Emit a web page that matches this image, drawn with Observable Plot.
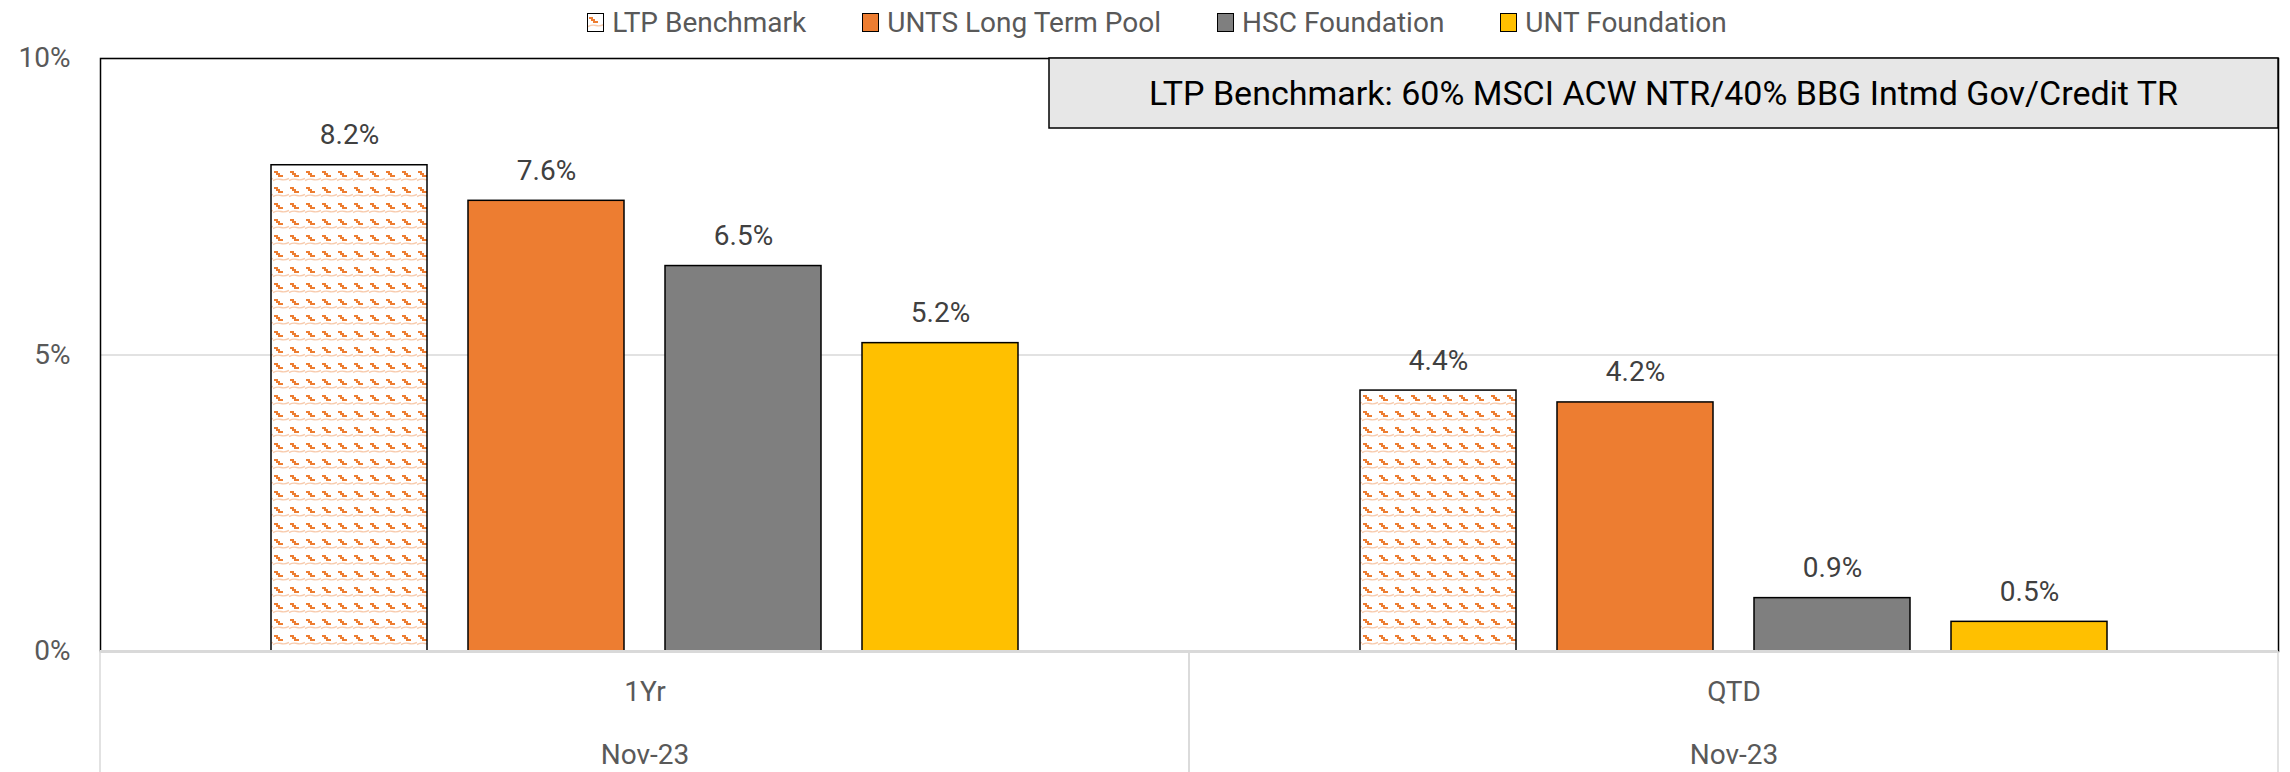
<!DOCTYPE html>
<html>
<head>
<meta charset="utf-8">
<script src="https://cdn.jsdelivr.net/npm/d3@7"></script>
<script src="https://cdn.jsdelivr.net/npm/@observablehq/plot@0.6"></script>
<style>
  html, body { margin: 0; padding: 0; background: #fff; }
  #legend { height: 40px; padding-top: 5px; padding-left: 24px; box-sizing: border-box; display: flex; justify-content: center; align-items: center; gap: 56px;
            font-family: Roboto, sans-serif; font-size: 28px; color: #595959; }
  .item { display: flex; align-items: center; }
  .sw { width: 15px; height: 17px; border: 1.5px solid #000; margin-right: 8px; box-sizing: content-box; display: inline-block; }
  .sw svg { display: block; }
</style>
</head>
<body>
<div id="legend"></div>
<div id="chart"></div>
<script>
// ---- data ----
const periods = ["1Yr", "QTD"];
const periodDates = ["Nov-23", "Nov-23"];
const series = ["LTP Benchmark", "UNTS Long Term Pool", "HSC Foundation", "UNT Foundation"];
const values1Yr = [8.2, 7.6, 6.5, 5.2];
const valuesQTD = [4.4, 4.2, 0.9, 0.5];
const yTicks = [0, 5, 10];
const seriesColors = ["url(#ltpPattern)", "#ED7D31", "#7F7F7F", "#FFC000"];
const annotationText = "LTP Benchmark: 60% MSCI ACW NTR/40% BBG Intmd Gov/Credit TR";

const valuesByPeriod = {"1Yr": values1Yr, "QTD": valuesQTD};
const table = periods.flatMap(p => series.map((s, i) => ({period: p, series: s, value: valuesByPeriod[p][i]})));

const W = 2290, H = 732;
const mLeft = 99, mRight = 12, mTop = 18, mBottom = 121;

const patternDef = (id) => `
  <pattern id="${id}" patternUnits="userSpaceOnUse" width="16" height="16">
    <rect width="16" height="16" fill="#fff"/>
    <path d="M1,3 h4 v2 h2 v2 h3 v2 h-5 v-2 h-2 v-2 h-2 z" fill="#ED7D31"/>
    <path d="M0,12.5 q4,-2 8,-1 t8,-1" fill="none" stroke="#F8CBAD" stroke-width="1.4"/>
  </pattern>`;

// ---- legend ----
const legend = d3.select("#legend");
series.forEach((s, i) => {
  const it = legend.append("div").attr("class", "item");
  const sw = it.append("span").attr("class", "sw");
  if (i === 0) {
    sw.html(`<svg width="15" height="17"><defs>${patternDef("ltpPatternLegend")}</defs><rect width="15" height="17" fill="url(#ltpPatternLegend)"/></svg>`);
  } else {
    sw.style("background", seriesColors[i]);
  }
  it.append("span").text(s);
});

const fmtPct = d => d3.format(".1f")(d) + "%";

const plot = Plot.plot({
  width: W,
  height: H,
  marginLeft: mLeft,
  marginRight: mRight,
  marginTop: mTop,
  marginBottom: mBottom,
  style: {fontFamily: "Roboto, sans-serif", fontSize: "28px", color: "#595959", background: "#fff"},
  fx: {domain: periods, padding: 0, axis: null, label: null},
  x: {domain: series, paddingInner: 0.21, paddingOuter: 0.866, axis: null, label: null},
  y: {domain: [0, 10], ticks: yTicks, tickFormat: d => d + "%", tickSize: 0, tickPadding: 30, label: null},
  color: {domain: series, range: seriesColors},
  marks: [
    Plot.gridY(yTicks, {stroke: "#d9d9d9", strokeOpacity: 1, strokeWidth: 1.5}),
    Plot.frame({facet: "super", stroke: "#000", strokeWidth: 1.5}),
    Plot.barY(table, {fx: "period", x: "series", y: "value", fill: "series", stroke: "#000", strokeWidth: 1.5}),
    Plot.ruleY([0], {stroke: "#d9d9d9", strokeWidth: 3}),
    Plot.text(table, {fx: "period", x: "series", y: "value", text: d => fmtPct(d.value), dy: -30, fill: "#404040", fontSize: 28}),
    Plot.text(periods, {fx: d => d, text: d => d, frameAnchor: "bottom", lineAnchor: "middle", dy: 41, fill: "#595959", fontSize: 28}),
    Plot.text(periods, {fx: d => d, text: (d, i) => periodDates[i], frameAnchor: "bottom", lineAnchor: "middle", dy: 104, fill: "#595959", fontSize: 28}),
    // category dividers below the baseline, at each facet's edges
    Plot.ruleY(periods, {fx: d => d, y: () => 0, render: (index, scales, values, dims) => {
      const r = scales.x.range();
      const y0 = scales.y(0);
      const g = d3.create("svg:g");
      for (const x of [r[0], r[r.length - 1]]) {
        g.append("line").attr("x1", x).attr("x2", x).attr("y1", y0).attr("y2", dims.height)
          .attr("stroke", "#d9d9d9").attr("stroke-width", 1.5);
      }
      return g.node();
    }}),
    // annotation box at the top-right of the frame
    Plot.frame({facet: "super", render: (index, scales, values, dims) => {
      const boxW = 1229, boxH = 70;
      const right = dims.width - dims.marginRight, top = dims.marginTop;
      const g = d3.create("svg:g");
      g.append("rect").attr("x", right - boxW).attr("y", top).attr("width", boxW).attr("height", boxH)
        .attr("fill", "#e7e7e7").attr("stroke", "#000").attr("stroke-width", 1.5);
      g.append("text").attr("x", right - boxW / 2).attr("y", top + boxH / 2).attr("dy", "0.35em")
        .attr("text-anchor", "middle").attr("fill", "#000").attr("font-size", 34).text(annotationText);
      return g.node();
    }})
  ]
});

d3.select(plot).insert("defs", ":first-child").html(patternDef("ltpPattern"));
document.getElementById("chart").appendChild(plot);
</script>
</body>
</html>
